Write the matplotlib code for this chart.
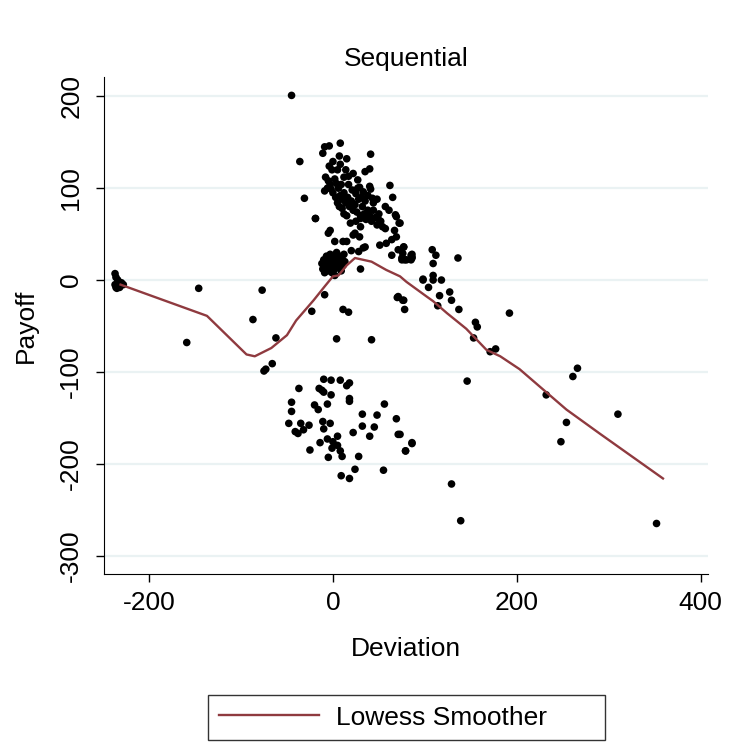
import matplotlib
matplotlib.use("Agg")
import matplotlib.pyplot as plt

plt.rcParams['font.family'] = ['Liberation Sans', 'DejaVu Sans']
plt.rcParams['axes.unicode_minus'] = False

# scatter points (deviation, payoff)
left_x = [-237, -236, -234, -237, -235, -232, -230, -228, -233, -236]
left_y = [7, 3, 0, -5, -9, -8, -3, -5, -2, -8]

spread_x = [-146, -159, -77, -87, -62, -66, -73, -75, -23, -9, 4, 42, 11, 17, 30,
            -45, -36, -31, -19, 108, 112, 109, 136, 98, 109, 109, 118, 104, 116,
            127, 129, 114, 137, 70, 77, 78, 155, 157, 192, 153, 171, 177, 146,
            232, 261, 266, 310, 254, 248, 129, 139, 352, 73, 86, 79, 71, 76, 98]
spread_y = [-9, -68, -11, -43, -63, -91, -97, -99, -34, -16, -64, -65, -32, -35, 12,
            201, 129, 89, 67, 33, 27, 18, 24, 0, 5, 0, 0, -8, -17,
            -13, -22, -28, -32, -19, -22, -32, -46, -51, -36, -63, -78, -75, -110,
            -125, -105, -96, -146, -155, -176, -222, -262, -265, -168, -178, -186, -18, -22, 1]

upper_x = [-11, -9, -4, 8, 7, 0, 15, 41, 40, 35, 62, 65, 57, 68, 61, 69, 72,
           -8, -5, -3, -6, -9, -2, 2, 4, 0, 3, 6, 8, 10, 5, 12, 14, 16, 18, 20,
           22, 24, 26, 28, 30, 32, 34, 36, 38, 40, 42, 44, 46, 48, 50, 52, 54,
           10, 12, 7, 15, 19, 25, 30, 9, 12, 17, 21, 25, 27, 31, 35, 38, 40, 44,
           48, 22, 14, 5, -1, -4, 8, 41, 27, 43, 33, 29, 17,
           -19, -5, -3, 2, 11, 15, 22, 24, 29, 35, 49, 57, 67, 64, 69, 58, 51,
           64, 71, 77, 75, 80, 86, 73, 77, 78, 75, 86, 86, 20, 28, 33, 30, 76, 85, 85]
upper_y = [138, 145, 146, 149, 135, 129, 132, 137, 121, 118, 103, 90, 80, 71, 76, 69, 62,
           112, 108, 104, 100, 97, 99, 110, 105, 95, 90, 100, 92, 88, 84, 95, 84, 90, 80, 86,
           76, 82, 74, 88, 70, 80, 72, 66, 76, 70, 64, 76, 68, 60, 72, 64, 58,
           78, 72, 80, 70, 62, 64, 58, 104, 112, 104, 98, 94, 100, 90, 86, 92, 102, 84,
           88, 116, 120, 120, 120, 124, 126, 99, 109, 89, 96, 101, 113,
           67, 51, 54, 42, 42, 42, 49, 51, 47, 36, 67, 56, 54, 44, 47, 40, 38,
           27, 33, 36, 24, 22, 25, 62, 36, 22, 22, 28, 24, 32, 31, 35, 67, 29, 27, 22]

blob_x = [-12, -10, -8, -7, -6, -5, -4, -3, -2, -1, 0, 1, 2, 3, 4, 5, 6, 7, 8, 9,
          10, 11, 12, -9, -11, 2, 13]
blob_y = [18, 22, 14, 26, 18, 10, 22, 28, 15, 8, 20, 25, 12, 18, 30, 22, 14, 26, 18, 10,
          23, 16, 28, 8, 12, 5, 20]

lower_x = [-10, -2, 8, 18, 15, -15, -12, -10, -37, -2, 18, 18, -45, -20, -16, -6, 56,
           -45, 32, 48, 69, -11, -3, 32, 45, -48, -35, -26, -32, -41, -38, -10, 22, 40,
           71, 86, 79, -6, 0, 5, -14, -25, -1, 5, 8, 10, -5, 28, 9, 18, 24, 55]
lower_y = [-108, -109, -109, -112, -115, -118, -120, -122, -118, -125, -129, -132, -133,
           -136, -141, -135, -135, -143, -146, -147, -151, -154, -156, -159, -160, -156,
           -156, -158, -163, -165, -167, -162, -166, -170, -168, -177, -186, -173, -176,
           -170, -177, -185, -183, -180, -186, -192, -193, -192, -213, -216, -206, -207]

# lowess curve
lowess_x = [-231, -137, -94, -85, -67, -50, -40, -21, -9, 0, 6, 15, 24, 33, 42, 58,
            73, 80, 102, 109, 124, 145, 167, 182, 203, 225, 254, 290, 359]
lowess_y = [-5, -39, -81, -83, -74, -60, -44, -22, -7, 4, 5, 16, 24, 22, 20, 11,
            4, -2, -18, -23, -36, -53, -76, -83, -97, -116, -141, -167, -216]

dev = left_x + spread_x + upper_x + blob_x + lower_x
pay = left_y + spread_y + upper_y + blob_y + lower_y

fs = 19
fig = plt.figure(figsize=(7.34, 7.42), dpi=100)
ax = fig.add_axes([0.1417, 0.2264, 0.8229, 0.6698])

for y in [-300, -200, -100, 0, 100, 200]:
    ax.axhline(y, color='#eaf2f3', lw=1.6, zorder=0)

ax.scatter(dev, pay, s=30, color='black', edgecolors='none', zorder=2)
line, = ax.plot(lowess_x, lowess_y, color='#8f3a3f', lw=1.7, zorder=3,
                label='Lowess Smoother')

ax.set_xlim(-249, 408)
ax.set_ylim(-320, 221)
ax.set_xticks([-200, 0, 200, 400])
ax.set_yticks([-300, -200, -100, 0, 100, 200])
ax.tick_params(axis='both', direction='out', length=6, width=1, labelsize=fs)
ax.tick_params(axis='y', pad=9)
ax.tick_params(axis='x', pad=6)
for lab in ax.get_yticklabels():
    lab.set_rotation(90)
    lab.set_va('center')
ax.spines['top'].set_visible(False)
ax.spines['right'].set_visible(False)

ax.set_title('Sequential', fontsize=fs, pad=8)
ax.set_xlabel('Deviation', fontsize=fs, labelpad=16)
ax.set_ylabel('Payoff', fontsize=fs, labelpad=15)

fig.legend(handles=[line], loc='upper left', mode='expand',
           bbox_to_anchor=(0.2834, -0.1, 0.541, 0.1633), fontsize=fs,
           frameon=True, fancybox=False, edgecolor='black', handlelength=3.8,
           handletextpad=0.65, borderpad=0.4, borderaxespad=0)
fig.legends[0].get_frame().set_linewidth(1)

fig.savefig('out.png', dpi=100)
